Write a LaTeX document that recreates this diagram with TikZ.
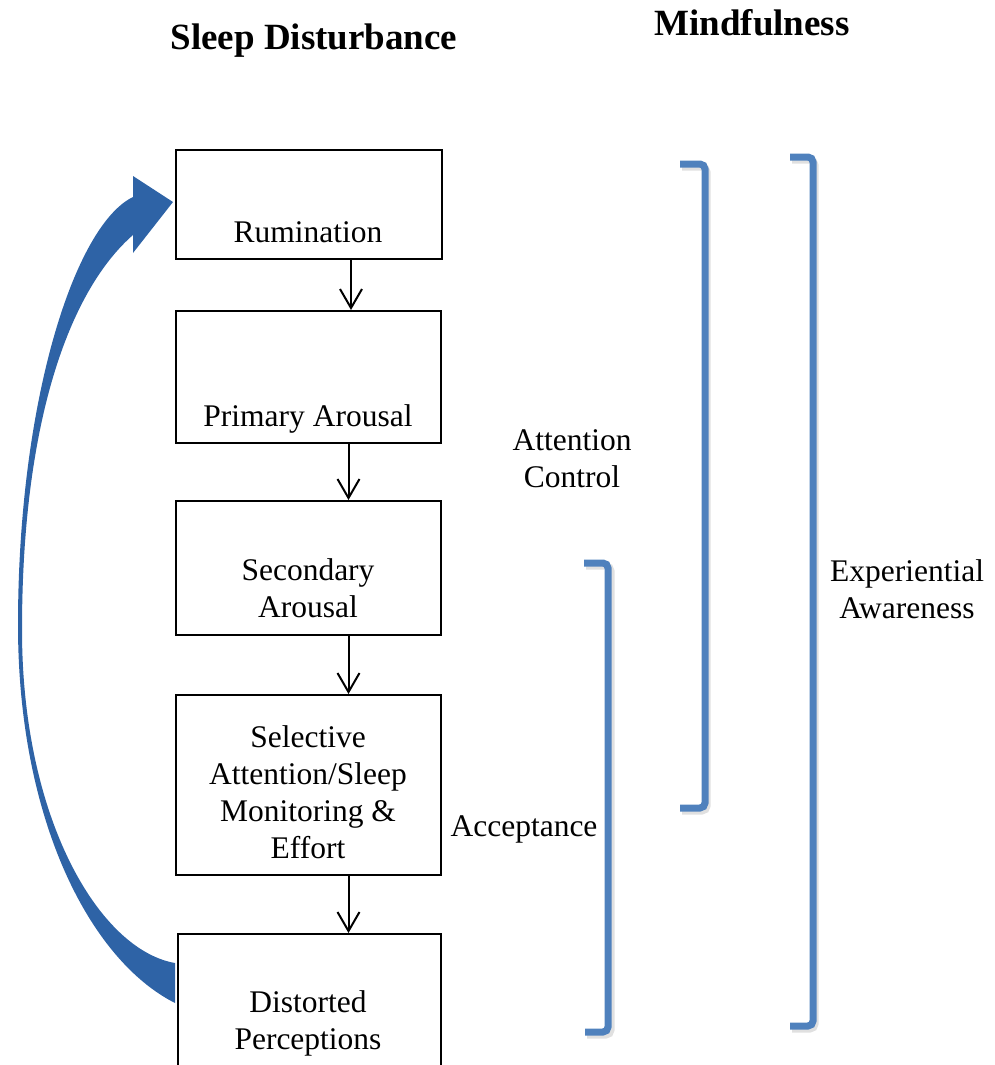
\documentclass[tikz,border=0pt]{standalone}
\usepackage{fontspec}
\setmainfont{Liberation Serif}
\usetikzlibrary{arrows.meta}
\definecolor{arrowblue}{RGB}{46,99,166}
\definecolor{brkblue}{RGB}{79,129,189}
\tikzset{
  box/.style={draw=black, line width=2pt, anchor=north west, inner sep=0pt},
  txt/.style={align=center, anchor=base, inner sep=0pt, font=\fontsize{31.5}{37}\selectfont},
  ttl/.style={anchor=base, inner sep=0pt, font=\fontsize{37}{44}\selectfont\bfseries},
  conn/.style={draw=black, line width=2pt, -{Straight Barb[length=19pt,width=22pt,line width=2pt]}},
  brk/.style={draw=brkblue, line width=7pt, rounded corners=5pt},
  brkshadow/.style={draw=black!20, line width=7pt, rounded corners=5pt, opacity=0.6},
}
\begin{document}
\begin{tikzpicture}[x=1pt, y=-1pt]
\path[use as bounding box, clip] (0,0) rectangle (994,1065);
% titles
\node[ttl] (t1) at (314,50) {Sleep Disturbance};
\node[ttl] (t2) at (752,36) {Mindfulness};
% boxes
\node[box, minimum width=266pt, minimum height=109pt] (b1) at (175,149) {};
\node[box, minimum width=265pt, minimum height=132pt] (b2) at (175,310) {};
\node[box, minimum width=265pt, minimum height=134pt] (b3) at (175,500) {};
\node[box, minimum width=265pt, minimum height=180pt] (b4) at (175,694) {};
\node[box, minimum width=263pt, minimum height=200pt] (b5) at (177,933) {};
% box texts (anchor = baseline of last line)
\node[txt] (l1) at (308,242) {Rumination};
\node[txt] (l2) at (308,426) {Primary Arousal};
\node[txt] (l3) at (308,617) {Secondary\\Arousal};
\node[txt] (l4) at (308,858) {Selective\\Attention/Sleep\\Monitoring \&\\Effort};
\node[txt] (l5) at (308,1049) {Distorted\\Perceptions};
% connectors
\draw[conn] ([xshift=42pt]b1.south) -- ([xshift=42pt]b1.south |- b2.north);
\draw[conn] ([xshift=40pt]b2.south) -- ([xshift=40pt]b2.south |- b3.north);
\draw[conn] ([xshift=40pt]b3.south) -- ([xshift=40pt]b3.south |- b4.north);
\draw[conn] ([xshift=40pt]b4.south) -- ([xshift=40pt]b4.south |- b5.north);
% curved feedback arrow
\fill[arrowblue]
  (133,197) -- (133,176) -- (173,202) -- (133,253) -- (133,235)
  .. controls (70,290) and (22,420) .. (22,630)
  .. controls (22,820) and (100,950) .. (175,963)
  -- (175,1003)
  .. controls (90,960) and (18,820) .. (18,625)
  .. controls (18,400) and (75,225) .. (133,197) -- cycle;
% brackets (shadows)
\draw[brkshadow] (682,167) -- (707,167) -- (707,811) -- (682,811);
\draw[brkshadow] (586,566) -- (611,566) -- (611,1035) -- (587,1035);
\draw[brkshadow] (792,160) -- (815,160) -- (815,1029) -- (792,1029);
% brackets
\draw[brk] (680,164) -- (705,164) -- (705,808) -- (680,808);
\draw[brk] (584,563) -- (608,563) -- (608,1032) -- (585,1032);
\draw[brk] (790,157) -- (813,157) -- (813,1026) -- (790,1026);
% bracket labels
\node[txt] (a1) at (572,487) {Attention\\Control};
\node[txt] (a2) at (524,836) {Acceptance};
\node[txt] (a3) at (907,618) {Experiential\\Awareness};
\end{tikzpicture}
\end{document}
